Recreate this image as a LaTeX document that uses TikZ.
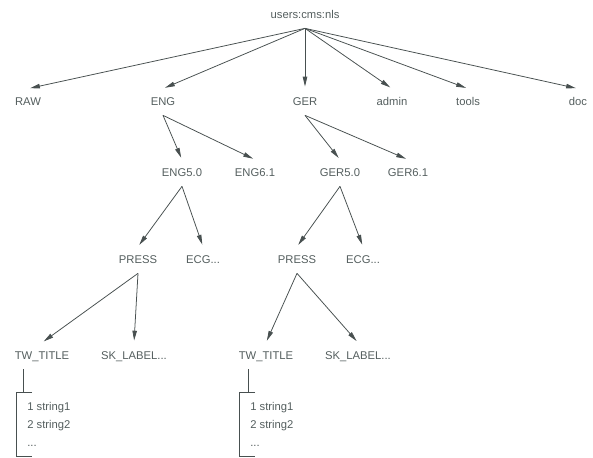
\documentclass[tikz,border=0pt]{standalone}
\usepackage{fontspec}
\setmainfont{Liberation Sans}
\usepackage{tikz}
\usetikzlibrary{arrows.meta}
\usepackage{xcolor}
\definecolor{ink}{RGB}{84,94,94}
\definecolor{wire}{RGB}{72,80,80}

\begin{document}
\begin{tikzpicture}[x=0.025cm, y=-0.025cm,
    font=\fontsize{8}{13}\selectfont, text=ink,
    dir/.style={text height=5.6pt, text depth=0pt, inner xsep=1pt, inner ysep=6.5pt},
    link/.style={wire, line width=0.55pt, -{Triangle[length=7pt,width=3.2pt]}, shorten >=1.5pt},
    rule/.style={wire, line width=0.55pt}]
  \useasboundingbox (0,0) rectangle (593,458);
  % root
  \node[dir] (root) at (305,15) {users:cms:nls};
  % top level
  \foreach \name/\x in {RAW/28, ENG/163, GER/305, admin/392, tools/468, doc/578} {
    \node[dir] (\name) at (\x,102) {\name};
    \draw[link] (root.south) -- (\name.north);
  }
  % versions
  \foreach \lang/\xa/\xb in {ENG/182/255, GER/340/408} {
    \node[dir] (\lang50) at (\xa,173) {\lang5.0};
    \node[dir] (\lang61) at (\xb,173) {\lang6.1};
    \draw[link] (\lang.south) -- (\lang50.north);
    \draw[link] (\lang.south) -- (\lang61.north);
  }
  % catalogs
  \foreach \lang/\xa/\xb in {ENG/138/203, GER/297/363} {
    \node[dir] (\lang-press) at (\xa,260) {PRESS};
    \node[dir] (\lang-ecg) at (\xb,260) {ECG...};
    \draw[link] (\lang50.south) -- (\lang-press.north);
    \draw[link] (\lang50.south) -- (\lang-ecg.north);
  }
  % messages
  \foreach \lang/\xa/\xb in {ENG/42/134, GER/266/358} {
    \node[dir] (\lang-tw) at (\xa,356) {TW\_TITLE};
    \node[dir] (\lang-sk) at (\xb,356) {SK\_LABEL...};
    \draw[link] (\lang-press.south) -- (\lang-tw.north);
    \draw[link] (\lang-press.south) -- (\lang-sk.north);
  }
  % string lists
  \foreach \lang/\xs/\xk in {ENG/23/16, GER/248/239} {
    \coordinate (\lang-stub) at (\xs,392);
    \node[anchor=north west, align=left, inner sep=0pt] (\lang-list)
      at (\xk+11,402) {1 string1\\2 string2\\...};
    \draw[rule] (\lang-stub |- \lang-tw.south) -- (\lang-stub);
    \draw[rule] (\xk+16,392) -- (\xk,392) -- (\xk,456) -- (\xk+16,456);
  }
\end{tikzpicture}
\end{document}
